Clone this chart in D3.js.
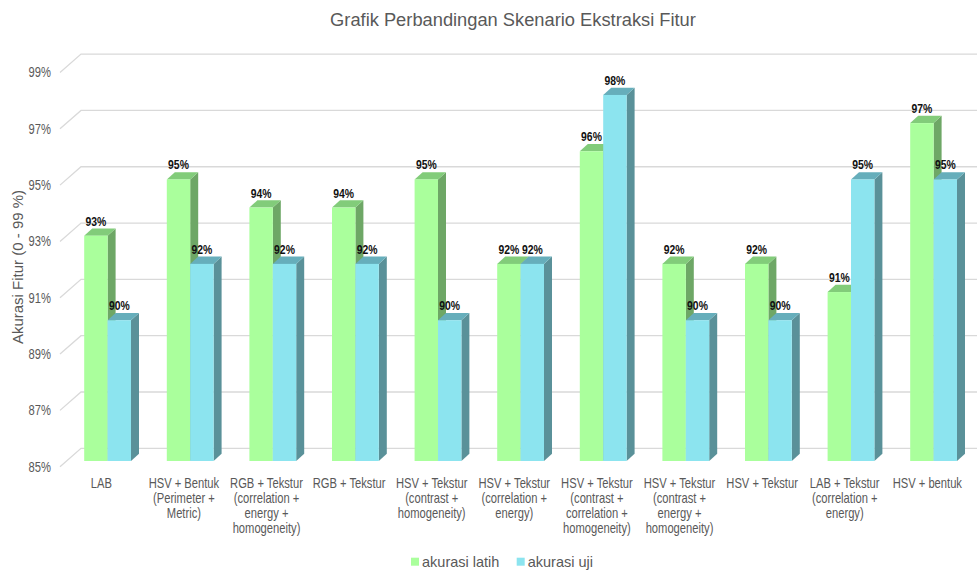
<!DOCTYPE html>
<html>
<head>
<meta charset="utf-8">
<script src="https://cdn.jsdelivr.net/npm/d3@7/dist/d3.min.js"></script>
<style>
  html, body { margin: 0; padding: 0; background: #fff; }
  svg { display: block; }
  text { font-family: "Liberation Sans", Arial, sans-serif; }
</style>
</head>
<body>
<svg id="chart" width="977" height="572"></svg>
<script>
// Feature-extraction scenarios and their training / test accuracy (%)
const categories = [
  ["LAB"],
  ["HSV + Bentuk", "(Perimeter +", "Metric)"],
  ["RGB + Tekstur", "(correlation +", "energy +", "homogeneity)"],
  ["RGB + Tekstur"],
  ["HSV + Tekstur", "(contrast +", "homogeneity)"],
  ["HSV + Tekstur", "(correlation +", "energy)"],
  ["HSV + Tekstur", "(contrast +", "correlation +", "homogeneity)"],
  ["HSV + Tekstur", "(contrast +", "energy +", "homogeneity)"],
  ["HSV + Tekstur"],
  ["LAB + Tekstur", "(correlation +", "energy)"],
  ["HSV + bentuk"]
];
const akurasiLatih = [93, 95, 94, 94, 95, 92, 96, 92, 92, 91, 97];
const akurasiUji   = [90, 92, 92, 92, 90, 92, 98, 90, 90, 95, 95];
const yTicks = [85, 87, 89, 91, 93, 95, 97, 99];
const seriesNames = ["akurasi latih", "akurasi uji"];

const title = "Grafik Perbandingan Skenario Ekstraksi Fitur";
const yTitle = "Akurasi Fitur (0 - 99 %)";

// colours: front, top, side per series
const palette = [
  { front: "#aaff9c", top: "#82cc7a", side: "#6ea766" },
  { front: "#8ce4ef", top: "#66aebb", side: "#5a9199" }
];

// condensed lettering: horizontal squeeze of the sans face
const squeeze = 0.8;

const svg = d3.select("#chart");

// front plane scales
const keys = categories.map((c, i) => "c" + i);
const x = d3.scaleBand().domain(keys).range([60, 968.6]).paddingInner(0).paddingOuter(0);
const y = d3.scaleLinear().domain([85, 99]).range([466.7, 72.5]);

// oblique depth of the floor and of a single bar
const wallDepth = { dx: 21, dy: -18.4 };
const barOffset = { dx: 6.3, dy: -5.7 };   // bars sit a bit behind the front plane
const barDepth  = { dx: 8, dy: -7.3 };
const groupWidth = 46.8;
const inner = d3.scaleBand().domain([0, 1]).range([0, groupWidth]);

// side wall diagonals + back wall gridlines
const grid = svg.append("g").attr("stroke", "#d9d9d9").attr("stroke-width", 1.3).attr("fill", "none");
yTicks.forEach(t => {
  const y0 = y(t);
  grid.append("path")
    .attr("d", `M${60},${y0} L${60 + wallDepth.dx},${y0 + wallDepth.dy} L${977},${y0 + wallDepth.dy}`);
});

// y axis labels
const yAxis = d3.axisLeft(y).tickValues(yTicks).tickSize(0).tickPadding(0).tickFormat(d => d + "%");
const yg = svg.append("g").attr("transform", "translate(51,0)").call(yAxis);
yg.select(".domain").remove();
yg.selectAll("text").attr("font-size", 14).attr("fill", "#595959")
  .attr("x", 0).attr("transform", `scale(${squeeze},1)`);

// x axis labels (multi-line)
const xAxis = d3.axisBottom(x).tickSize(0).tickPadding(0).tickFormat("");
const xg = svg.append("g").attr("transform", "translate(0,478)").call(xAxis);
xg.select(".domain").remove();
xg.selectAll(".tick").each(function(k, i) {
  const t = d3.select(this).select("text")
    .attr("font-size", 14).attr("fill", "#595959")
    .attr("y", 0).attr("dy", null)
    .attr("transform", `scale(${squeeze},1)`);
  categories[i].forEach((line, j) => {
    t.append("tspan").attr("x", 0).attr("y", 9.5 + j * 15.3).text(line);
  });
});

// 3D columns
const bars = svg.append("g");
const labels = svg.append("g").attr("font-size", 13)
  .attr("font-weight", "bold").attr("fill", "#111").attr("text-anchor", "middle");
const series = [akurasiLatih, akurasiUji];
keys.forEach((k, i) => {
  const gx = x(k) + x.bandwidth() / 2 - groupWidth / 2 + barOffset.dx;
  series.forEach((vals, s) => {
    const v = vals[i];
    const x0 = gx + inner(s), w = inner.bandwidth();
    const yt = y(v) + barOffset.dy, yb = y(85) + barOffset.dy;
    const dx = barDepth.dx, dy = barDepth.dy;
    const c = palette[s];
    // side face
    bars.append("path").attr("fill", c.side)
      .attr("d", `M${x0 + w},${yt} L${x0 + w + dx},${yt + dy} L${x0 + w + dx},${yb + dy} L${x0 + w},${yb}Z`);
    // top face
    bars.append("path").attr("fill", c.top)
      .attr("d", `M${x0},${yt} L${x0 + dx},${yt + dy} L${x0 + w + dx},${yt + dy} L${x0 + w},${yt}Z`);
    // front face
    bars.append("rect").attr("fill", c.front)
      .attr("x", x0).attr("y", yt).attr("width", w).attr("height", yb - yt);
    labels.append("text")
      .attr("transform", `translate(${x0 + w / 2},${yt - 10}) scale(${squeeze},1)`)
      .text(v + "%");
  });
});

// title
svg.append("text").attr("x", 513).attr("y", 26)
  .attr("text-anchor", "middle").attr("font-size", 18.3).attr("fill", "#595959").text(title);

// y axis title
svg.append("text")
  .attr("transform", `translate(23,${267}) rotate(-90)`)
  .attr("text-anchor", "middle").attr("font-size", 15).attr("fill", "#595959").text(yTitle);

// legend
const legend = svg.append("g").attr("font-size", 14.5).attr("fill", "#595959");
const legendX = [411, 516.7];
seriesNames.forEach((name, s) => {
  legend.append("rect").attr("x", legendX[s]).attr("y", 557.7).attr("width", 8).attr("height", 8)
    .attr("fill", palette[s].front);
  legend.append("text").attr("x", legendX[s] + 11).attr("y", 567).text(name);
});
</script>
</body>
</html>
